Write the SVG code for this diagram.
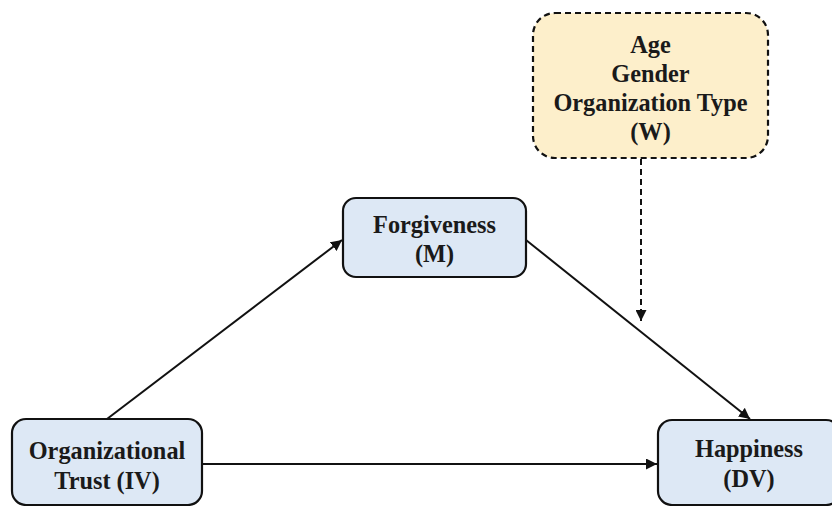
<svg xmlns="http://www.w3.org/2000/svg" width="832" height="506" viewBox="0 0 832 506">
<style>
.box{stroke:#111;stroke-width:2.2}
.blue{fill:#dde8f5}
.yellow{fill:#fdefcb;stroke-dasharray:6 4}
.t{font-family:"Liberation Serif","Times New Roman",serif;font-weight:bold;font-size:24.3px;fill:#1a1a1a;text-anchor:middle}
.ln{stroke:#111;stroke-width:2;fill:none}
.dash{stroke-dasharray:6 4}
</style>
<defs>
<marker id="ah" viewBox="0 0 10 10" refX="10" refY="5" markerWidth="5.5" markerHeight="5.5" markerUnits="strokeWidth" orient="auto">
<path d="M0,0 L10,5 L0,10 z" fill="#111"/>
</marker>
</defs>
<rect width="832" height="506" fill="#fff"/>
<g id="connectors">
<line class="ln" x1="107" y1="419" x2="342" y2="240" marker-end="url(#ah)"/>
<line class="ln" x1="526" y1="240" x2="750" y2="419" marker-end="url(#ah)"/>
<line class="ln" x1="202" y1="464" x2="657" y2="464" marker-end="url(#ah)"/>
<line class="ln dash" x1="641" y1="159" x2="641" y2="321" marker-end="url(#ah)"/>
</g>
<g id="moderator">
<rect class="box yellow" x="533" y="13" width="235" height="145" rx="22"/>
<text class="t" x="650.5" y="53">Age</text>
<text class="t" x="650.5" y="82">Gender</text>
<text class="t" x="650.5" y="111">Organization Type</text>
<text class="t" x="650.5" y="140">(W)</text>
</g>
<g id="mediator">
<rect class="box blue" x="343" y="198" width="183" height="79" rx="13"/>
<text class="t" x="434.5" y="233">Forgiveness</text>
<text class="t" x="434.5" y="262">(M)</text>
</g>
<g id="iv">
<rect class="box blue" x="12" y="419" width="190" height="86" rx="14"/>
<text class="t" x="107" y="459">Organizational</text>
<text class="t" x="107" y="489">Trust (IV)</text>
</g>
<g id="dv">
<rect class="box blue" x="658" y="420" width="182" height="85" rx="14"/>
<text class="t" x="749" y="457">Happiness</text>
<text class="t" x="749" y="487">(DV)</text>
</g>
</svg>
